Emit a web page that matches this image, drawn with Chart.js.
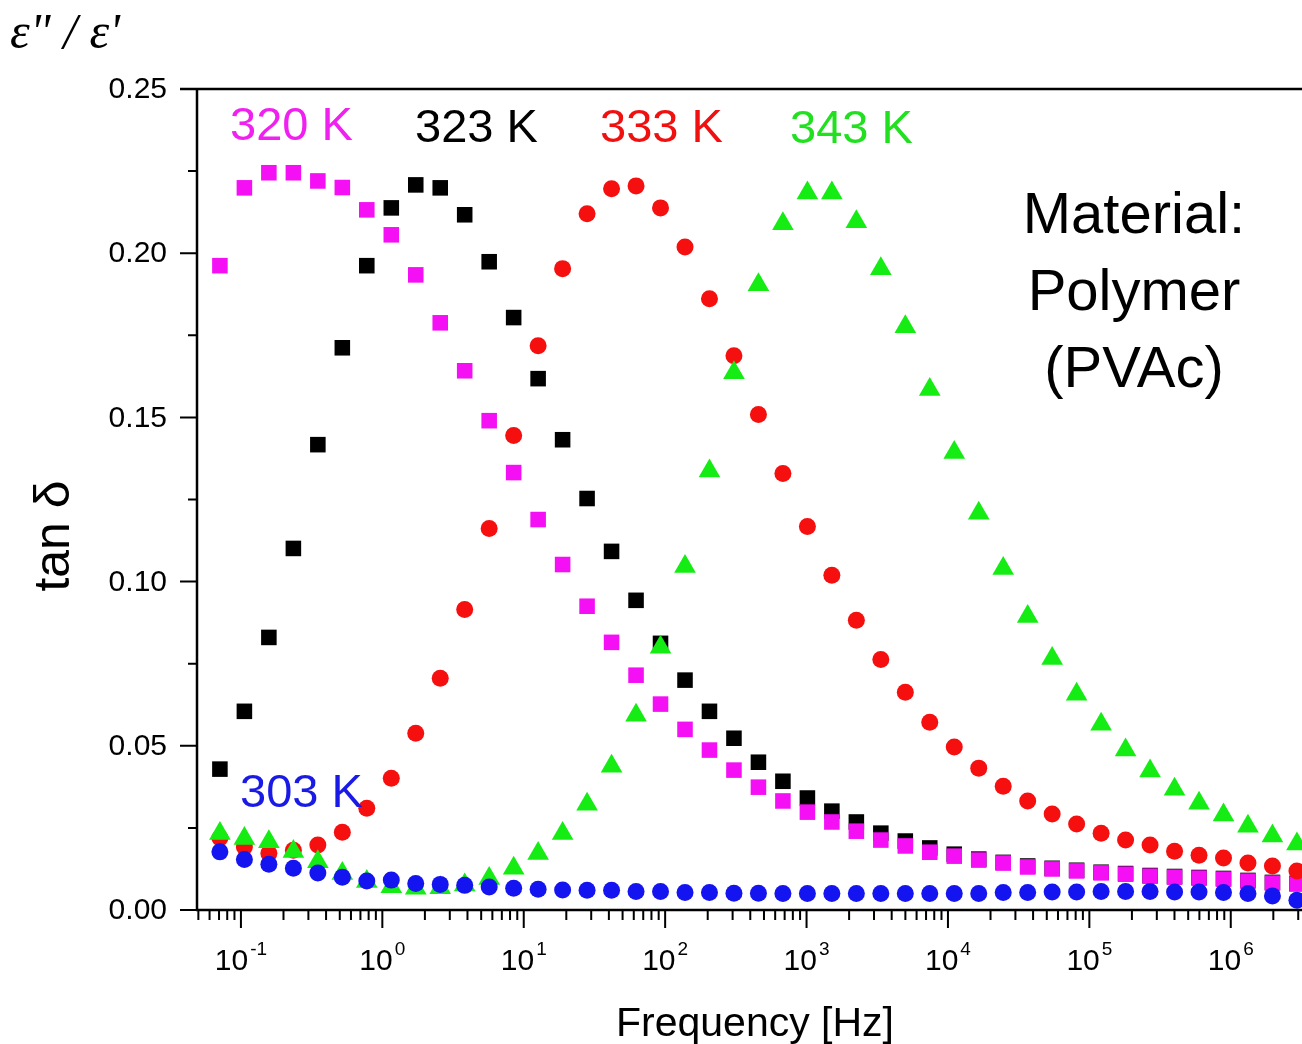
<!DOCTYPE html>
<html>
<head>
<meta charset="utf-8">
<script src="https://cdn.jsdelivr.net/npm/chart.js@4"></script>
<style>
  html, body { margin: 0; padding: 0; background: #fff; }
  #wrap { width: 1302px; height: 1044px; }
</style>
</head>
<body>
<div id="wrap"><canvas id="chart" width="1302" height="1044"></canvas></div>
<script>
// measurement frequencies [Hz]
var freqs = [0.0710, 0.1058, 0.1576, 0.2349, 0.3499, 0.5212, 0.7764, 1.157, 1.723, 2.567,
  3.823, 5.696, 8.486, 12.64, 18.83, 28.05, 41.79, 62.26, 92.75, 138.2,
  205.8, 306.6, 456.8, 680.5, 1014, 1510, 2250, 3352, 4994, 7436,
  11080, 16510, 24590, 36630, 54570, 81280, 121100, 180400, 268700, 400400,
  596400, 888400, 1323000, 1971000, 2937000];

// tan delta per temperature
var tan303 = [0.0177, 0.0154, 0.0139, 0.0127, 0.0113, 0.0100, 0.0088, 0.0091, 0.0081, 0.0078,
  0.0075, 0.0070, 0.0066, 0.0063, 0.0061, 0.0060, 0.0060, 0.0056, 0.0056, 0.0053,
  0.0053, 0.0051, 0.0051, 0.0050, 0.0050, 0.0050, 0.0050, 0.0050, 0.0050, 0.0050,
  0.0050, 0.0050, 0.0053, 0.0053, 0.0055, 0.0055, 0.0056, 0.0056, 0.0056, 0.0055,
  0.0055, 0.0053, 0.0050, 0.0043, 0.0030];
var tan320 = [0.1962, 0.2199, 0.2245, 0.2245, 0.2220, 0.2200, 0.2132, 0.2056, 0.1934, 0.1788,
  0.1642, 0.1490, 0.1332, 0.1189, 0.1052, 0.0925, 0.0815, 0.0715, 0.0627, 0.0550,
  0.0487, 0.0426, 0.0374, 0.0332, 0.0298, 0.0268, 0.0240, 0.0213, 0.0195, 0.0176,
  0.0164, 0.0152, 0.0143, 0.0131, 0.0125, 0.0119, 0.0113, 0.0109, 0.0103, 0.0100,
  0.0097, 0.0094, 0.0088, 0.0082, 0.0079];
var tan323 = [0.0429, 0.0605, 0.0830, 0.1101, 0.1417, 0.1712, 0.1962, 0.2138, 0.2208, 0.2199,
  0.2117, 0.1974, 0.1804, 0.1618, 0.1432, 0.1253, 0.1092, 0.0943, 0.0812, 0.0700,
  0.0605, 0.0523, 0.0450, 0.0392, 0.0341, 0.0301, 0.0268, 0.0234, 0.0210, 0.0189,
  0.0170, 0.0155, 0.0145, 0.0134, 0.0127, 0.0121, 0.0115, 0.0111, 0.0105, 0.0102,
  0.0099, 0.0096, 0.0090, 0.0084, 0.0081];
var tan333 = [0.0219, 0.0192, 0.0173, 0.0182, 0.0198, 0.0237, 0.0310, 0.0401, 0.0538, 0.0706,
  0.0915, 0.1162, 0.1445, 0.1718, 0.1953, 0.2120, 0.2196, 0.2205, 0.2138, 0.2019,
  0.1861, 0.1688, 0.1509, 0.1329, 0.1168, 0.1019, 0.0882, 0.0763, 0.0663, 0.0572,
  0.0496, 0.0432, 0.0377, 0.0332, 0.0292, 0.0262, 0.0234, 0.0213, 0.0198, 0.0179,
  0.0167, 0.0158, 0.0143, 0.0134, 0.0119];
var tan343 = [0.0233, 0.0218, 0.0208, 0.0178, 0.0147, 0.0111, 0.0087, 0.0071, 0.0066, 0.0068,
  0.0076, 0.0096, 0.0127, 0.0172, 0.0233, 0.0322, 0.0438, 0.0593, 0.0800, 0.1046,
  0.1337, 0.1636, 0.1904, 0.2090, 0.2183, 0.2183, 0.2096, 0.1953, 0.1776, 0.1585,
  0.1393, 0.1208, 0.1040, 0.0894, 0.0766, 0.0657, 0.0566, 0.0487, 0.0423, 0.0368,
  0.0325, 0.0289, 0.0255, 0.0225, 0.0201];

// axis ticks
var xDecades = [-1, 0, 1, 2, 3, 4, 5, 6];
var yTicks = [0, 0.05, 0.10, 0.15, 0.20, 0.25];
var yTickLabels = ['0.00', '0.05', '0.10', '0.15', '0.20', '0.25'];

var pts = function(vals) {
  return vals.map(function(v, i) { return { x: freqs[i], y: v }; });
};

var SANS = '"Liberation Sans", Arial, sans-serif';

var axesPlugin = {
  id: 'axes',
  afterDraw: function(chart) {
    var ctx = chart.ctx, a = chart.chartArea,
        xs = chart.scales.x, ys = chart.scales.y;
    ctx.save();
    ctx.strokeStyle = '#000';
    ctx.fillStyle = '#000';

    // frame: left, bottom, top
    ctx.lineWidth = 2.5;
    ctx.beginPath();
    ctx.moveTo(a.left, a.top - 1);
    ctx.lineTo(a.left, a.bottom + 1);
    ctx.moveTo(a.left - 1, a.bottom);
    ctx.lineTo(chart.width, a.bottom);
    ctx.moveTo(a.left - 17, a.top);
    ctx.lineTo(chart.width, a.top);
    ctx.stroke();

    // y ticks
    ctx.lineWidth = 2;
    ctx.beginPath();
    yTicks.forEach(function(v, i) {
      var y = ys.getPixelForValue(v);
      ctx.moveTo(a.left - 17, y);
      ctx.lineTo(a.left, y);
      if (i < yTicks.length - 1) {
        var ym = ys.getPixelForValue(v + 0.025);
        ctx.moveTo(a.left - 9, ym);
        ctx.lineTo(a.left, ym);
      }
    });
    ctx.stroke();

    ctx.font = '30px ' + SANS;
    ctx.textAlign = 'right';
    ctx.textBaseline = 'middle';
    yTicks.forEach(function(v, i) {
      ctx.fillText(yTickLabels[i], a.left - 30, ys.getPixelForValue(v) + 1);
    });

    // x ticks (log)
    ctx.beginPath();
    for (var d = -2; d <= 6; d++) {
      for (var m = 1; m <= 9; m++) {
        var v = m * Math.pow(10, d);
        if (v < xs.min || v > xs.max) continue;
        var x = xs.getPixelForValue(v);
        ctx.moveTo(x, a.bottom);
        ctx.lineTo(x, a.bottom + (m === 1 ? 18 : 10));
      }
    }
    ctx.stroke();

    ctx.textBaseline = 'alphabetic';
    xDecades.forEach(function(e) {
      var x = xs.getPixelForValue(Math.pow(10, e));
      ctx.font = '30px ' + SANS;
      var w1 = ctx.measureText('10').width;
      ctx.font = '19px ' + SANS;
      var sup = String(e);
      var w2 = ctx.measureText(sup).width;
      var x0 = x - (w1 + w2 + 2) / 2;
      ctx.textAlign = 'left';
      ctx.font = '30px ' + SANS;
      ctx.fillText('10', x0, 970);
      ctx.font = '19px ' + SANS;
      ctx.fillText(sup, x0 + w1 + 2, 955);
    });

    // axis titles
    ctx.textAlign = 'center';
    ctx.font = '41px ' + SANS;
    ctx.fillText('Frequency [Hz]', 755, 1036);

    ctx.save();
    ctx.translate(69, 536);
    ctx.rotate(-Math.PI / 2);
    ctx.font = '50px ' + SANS;
    ctx.fillText('tan \u03b4', 0, 0);
    ctx.restore();

    ctx.textAlign = 'left';
    ctx.font = 'italic 50px "Liberation Serif", "Times New Roman", serif';
    ctx.fillText('\u03b5" / \u03b5\'', 10, 48);

    // temperature labels
    ctx.font = '47px ' + SANS;
    [['320 K', '#f020f0', 230, 140], ['323 K', '#000000', 415, 142],
     ['333 K', '#f01010', 600, 142], ['343 K', '#20e020', 790, 143],
     ['303 K', '#1a1ae6', 240, 807]].forEach(function(t) {
      ctx.fillStyle = t[1];
      ctx.fillText(t[0], t[2], t[3]);
    });

    // material note
    ctx.fillStyle = '#000';
    ctx.textAlign = 'center';
    ctx.font = '58px ' + SANS;
    ctx.fillText('Material:', 1134, 233);
    ctx.fillText('Polymer', 1134, 310);
    ctx.fillText('(PVAc)', 1134, 387);
    ctx.restore();
  }
};

var chart = new Chart(document.getElementById('chart'), {
  type: 'scatter',
  data: {
    datasets: [{
      label: '303 K',
      data: pts(tan303),
      pointStyle: 'circle',
      pointRadius: 8.5,
      backgroundColor: '#1414f0',
      borderWidth: 0
    }, {
      label: '343 K',
      data: pts(tan343),
      pointStyle: 'triangle',
      pointRadius: 12.5,
      backgroundColor: '#14ec14',
      borderWidth: 0
    }, {
      label: '333 K',
      data: pts(tan333),
      pointStyle: 'circle',
      pointRadius: 8.5,
      backgroundColor: '#f50f0f',
      borderWidth: 0
    }, {
      label: '320 K',
      data: pts(tan320),
      pointStyle: 'rect',
      pointRadius: 11,
      backgroundColor: '#f50ff5',
      borderWidth: 0
    }, {
      label: '323 K',
      data: pts(tan323),
      pointStyle: 'rect',
      pointRadius: 11,
      backgroundColor: '#000000',
      borderWidth: 0
    }]
  },
  options: {
    responsive: false,
    animation: false,
    devicePixelRatio: 1,
    clip: false,
    layout: {
      autoPadding: false,
      padding: { left: 197, top: 89, right: 0, bottom: 134 }
    },
    plugins: {
      legend: { display: false },
      tooltip: { enabled: false }
    },
    elements: {
      point: { hoverRadius: 0 }
    },
    scales: {
      x: {
        type: 'logarithmic',
        display: false,
        min: 0.0489,
        max: 3190000
      },
      y: {
        type: 'linear',
        display: false,
        min: 0,
        max: 0.25
      }
    }
  },
  plugins: [axesPlugin]
});
</script>
</body>
</html>
